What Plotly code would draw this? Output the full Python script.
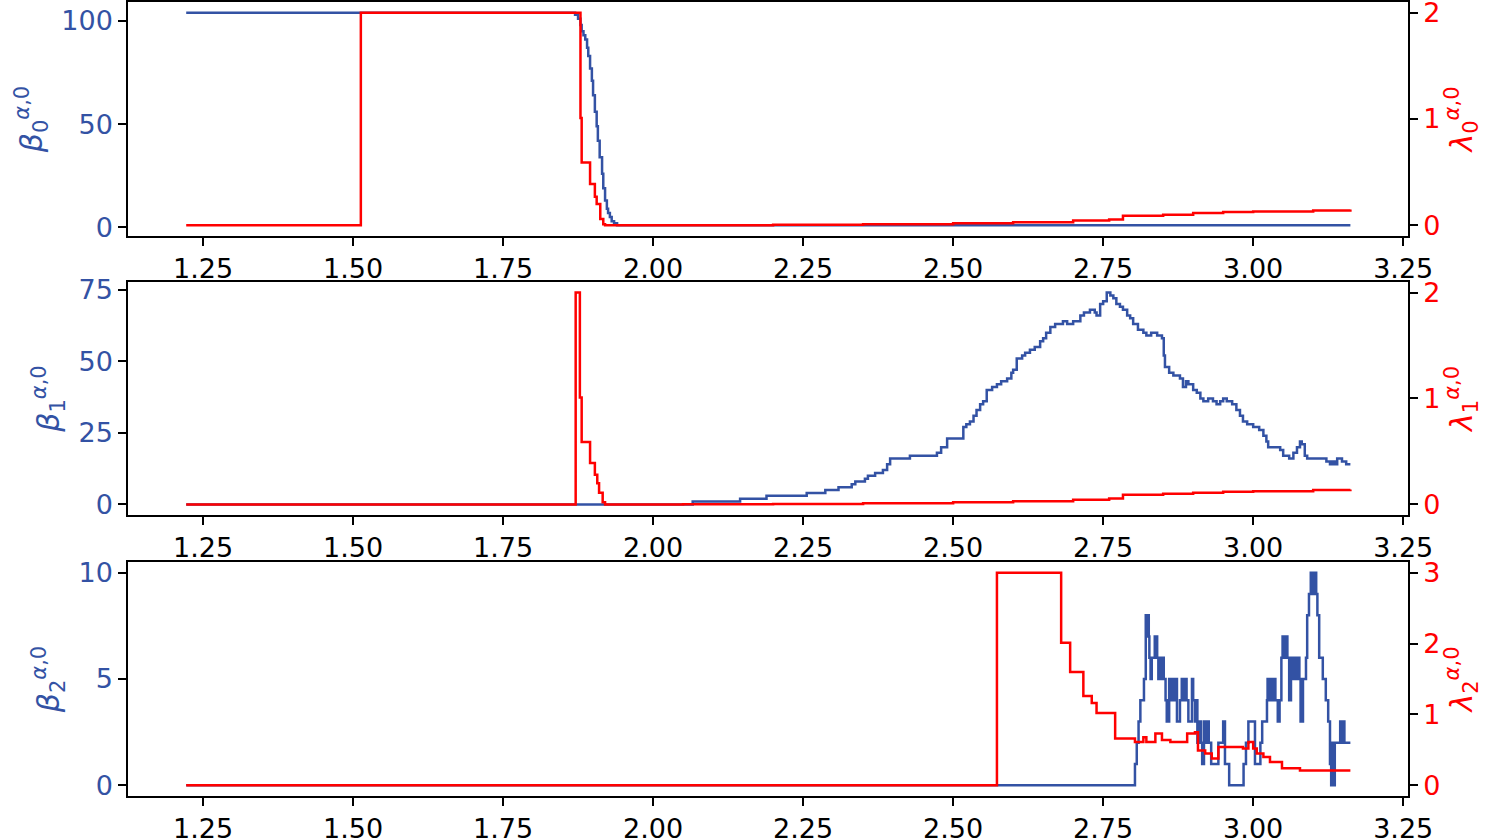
import plotly.graph_objects as go

BLUE = "#3352a4"
RED = "#ff0000"

# ---- panel 1: beta_0 (left) and lambda_0 (right) ----
b0_x = [1.222, 1.870, 1.875, 1.879, 1.881, 1.884, 1.887, 1.890, 1.892, 1.895, 1.898,
        1.900, 1.903, 1.906, 1.908, 1.911, 1.915, 1.917, 1.920, 1.923, 1.925, 1.928,
        1.931, 1.935, 1.940, 3.162]
b0_y = [104, 103, 101, 98, 95, 93, 91, 87, 83, 77, 71, 64, 56, 49, 42, 34, 26, 19, 13,
        9, 7, 5, 3, 2, 1, 1]
l0_x = [1.222, 1.513, 1.879, 1.881, 1.895, 1.903, 1.906, 1.912, 1.917, 1.920, 2.05,
        2.2, 2.35, 2.5, 2.6, 2.7, 2.76, 2.783, 2.85, 2.9, 2.95, 3.0, 3.1, 3.162]
l0_y = [0, 2, 1.01, 0.59, 0.39, 0.27, 0.2, 0.06, 0.01, 0, 0.002, 0.005, 0.01, 0.02,
        0.03, 0.045, 0.055, 0.09, 0.1, 0.115, 0.125, 0.13, 0.14, 0.15]

# ---- panel 2: beta_1 and lambda_1 ----
b1_x = [1.222, 2.066, 2.145, 2.189, 2.256, 2.287, 2.309, 2.331, 2.337, 2.353, 2.358,
        2.370, 2.383, 2.390, 2.395, 2.428, 2.473, 2.480, 2.490, 2.517, 2.522, 2.528,
        2.534, 2.539, 2.545, 2.550, 2.556, 2.565, 2.573, 2.580, 2.590, 2.597, 2.600,
        2.606, 2.615, 2.620, 2.628, 2.636, 2.645, 2.650, 2.655, 2.662, 2.670, 2.683,
        2.690, 2.700, 2.712, 2.718, 2.728, 2.736, 2.739, 2.745, 2.750, 2.756, 2.762,
        2.767, 2.772, 2.778, 2.783, 2.790, 2.795, 2.800, 2.808, 2.817, 2.822, 2.830,
        2.840, 2.848, 2.851, 2.853, 2.860, 2.867, 2.878, 2.883, 2.888, 2.892, 2.900,
        2.906, 2.912, 2.917, 2.925, 2.933, 2.939, 2.945, 2.950, 2.956, 2.965, 2.972,
        2.978, 2.983, 2.990, 3.000, 3.010, 3.017, 3.022, 3.025, 3.040, 3.045, 3.050,
        3.060, 3.067, 3.073, 3.078, 3.081, 3.086, 3.090, 3.117, 3.122, 3.128, 3.132,
        3.136, 3.140, 3.148, 3.155, 3.162]
b1_y = [0, 1, 2, 3, 4, 5, 6, 7, 8, 9, 10, 11, 12, 14, 16, 17, 18, 20, 23, 27, 28, 29,
        31, 33, 35, 36, 40, 41, 42, 43, 44, 46, 47, 51, 52, 53, 54, 55, 57, 58, 60, 62,
        63, 64, 63, 64, 66, 67, 68, 67, 66, 70, 71, 74, 73, 72, 70, 69, 68, 66, 65, 63,
        61, 60, 59, 60, 59, 58, 52, 48, 46, 45, 44, 41, 43, 42, 40, 39, 37, 36, 37, 36,
        35, 36, 37, 36, 35, 33, 31, 29, 28, 27, 26, 24, 22, 20, 20, 19, 17, 16, 18, 20,
        22, 21, 17, 16, 16, 15, 14, 15, 14, 16, 15, 14, 14]
l1_x = [1.222, 1.871, 1.878, 1.881, 1.895, 1.903, 1.907, 1.910, 1.916, 1.920, 2.05,
        2.2, 2.35, 2.5, 2.6, 2.7, 2.76, 2.783, 2.85, 2.9, 2.95, 3.0, 3.1, 3.162]
l1_y = [0, 2, 1.01, 0.59, 0.39, 0.28, 0.2, 0.11, 0.02, 0, 0.002, 0.005, 0.01, 0.02,
        0.03, 0.045, 0.055, 0.09, 0.1, 0.11, 0.12, 0.125, 0.135, 0.14]

# ---- panel 3: beta_2 and lambda_2 ----
b2_x = [1.222, 2.803, 2.806, 2.809, 2.812, 2.818, 2.821, 2.823, 2.824, 2.826, 2.827,
        2.829, 2.831, 2.836, 2.840, 2.842, 2.844, 2.846, 2.848, 2.851, 2.854, 2.856,
        2.860, 2.863, 2.865, 2.868, 2.870, 2.873, 2.878, 2.881, 2.884, 2.887, 2.889,
        2.892, 2.898, 2.900, 2.903, 2.905, 2.907, 2.910, 2.913, 2.915, 2.918, 2.920,
        2.923, 2.926, 2.930, 2.942, 2.950, 2.953, 2.960, 2.984, 2.988, 2.992, 3.003,
        3.012, 3.015, 3.023, 3.024, 3.026, 3.029, 3.032, 3.034, 3.037, 3.041, 3.044,
        3.047, 3.049, 3.052, 3.055, 3.057, 3.060, 3.063, 3.066, 3.069, 3.071, 3.074,
        3.077, 3.079, 3.083, 3.088, 3.090, 3.093, 3.096, 3.099, 3.101, 3.105, 3.107,
        3.110, 3.116, 3.121, 3.125, 3.128, 3.130, 3.132, 3.134, 3.136, 3.145, 3.147,
        3.149, 3.152, 3.162]
b2_y = [0, 1, 2, 3, 4, 5, 8, 7, 8, 7, 6, 5, 6, 7, 6, 5, 6, 5, 6, 5, 4, 3, 5, 4, 5, 4,
        5, 3, 4, 5, 4, 5, 4, 3, 5, 4, 3, 4, 2, 3, 2, 1, 3, 2, 3, 2, 1, 2, 3, 1, 0, 1, 2,
        3, 1, 2, 3, 4, 5, 4, 5, 4, 5, 4, 3, 4, 6, 7, 6, 7, 6, 4, 6, 5, 6, 5, 6, 5, 3, 5,
        6, 8, 9, 10, 9, 10, 9, 8, 6, 5, 4, 3, 1, 0, 2, 0, 2, 3, 2, 3, 2, 2]
l2_x = [1.222, 2.573, 2.680, 2.695, 2.717, 2.731, 2.739, 2.770, 2.803, 2.817, 2.822,
        2.837, 2.848, 2.862, 2.890, 2.903, 2.908, 2.920, 2.931, 2.942, 2.983, 2.992,
        3.000, 3.006, 3.017, 3.028, 3.048, 3.078, 3.162]
l2_y = [0, 3, 2.01, 1.6, 1.26, 1.16, 1.02, 0.66, 0.61, 0.68, 0.61, 0.73, 0.64, 0.61,
        0.73, 0.75, 0.49, 0.45, 0.38, 0.54, 0.52, 0.61, 0.52, 0.45, 0.40, 0.33, 0.24,
        0.21, 0.21]

x_ticks = [1.25, 1.50, 1.75, 2.00, 2.25, 2.50, 2.75, 3.00, 3.25]

fig = go.Figure()
panels = [
    (b0_x, b0_y, l0_x, l0_y, "x", "y", "y2"),
    (b1_x, b1_y, l1_x, l1_y, "x2", "y3", "y4"),
    (b2_x, b2_y, l2_x, l2_y, "x3", "y5", "y6"),
]
for bx, by, lx, ly, xa, ya, ya2 in panels:
    fig.add_trace(go.Scatter(x=bx, y=by, mode="lines", xaxis=xa, yaxis=ya,
                             line=dict(color=BLUE, width=2.5, shape="hv")))
    fig.add_trace(go.Scatter(x=lx, y=ly, mode="lines", xaxis=xa, yaxis=ya2,
                             line=dict(color=RED, width=2.5, shape="hv")))

FS = 27
axis_common = dict(showline=True, linecolor="black", linewidth=1.5, ticks="outside",
                   ticklen=8, tickwidth=1.5, tickcolor="black", showgrid=False,
                   zeroline=False, automargin=False, ticklabeloverflow="allow")


def xax(anchor):
    return dict(axis_common, domain=[0, 1], anchor=anchor, range=[1.125, 3.258],
                tickvals=x_ticks, tickformat=".2f", mirror=True,
                tickfont=dict(size=FS, color="black"))


def yleft(domain, anchor, rng, ticks, idx):
    return dict(axis_common, domain=domain, anchor=anchor, range=rng, tickvals=ticks,
                mirror=True, tickfont=dict(size=FS, color=BLUE),
                title=dict(text="<i>β</i><sub>%d</sub><sup><i>α</i>,0</sup>" % idx,
                           font=dict(size=30, color=BLUE), standoff=10))


def yright(over, anchor, rng, ticks, idx):
    return dict(axis_common, overlaying=over, side="right", anchor=anchor, range=rng,
                tickvals=ticks, tickfont=dict(size=FS, color=RED),
                title=dict(text="<i>λ</i><sub>%d</sub><sup><i>α</i>,0</sup>" % idx,
                           font=dict(size=30, color=RED), standoff=6))


d1 = [0.7053, 1.0]
d2 = [0.3539, 0.6474]
d3 = [0.0, 0.2947]

fig.update_layout(
    width=1500, height=839,
    margin=dict(l=128, r=92, t=2, b=43),
    paper_bgcolor="white", plot_bgcolor="white",
    font=dict(family="DejaVu Sans", size=FS, color="black"),
    showlegend=False,
    xaxis=xax("y"), xaxis2=xax("y3"), xaxis3=xax("y5"),
    yaxis=yleft(d1, "x", [-4.15, 109.15], [0, 50, 100], 0),
    yaxis2=yright("y", "x", [-0.1, 2.1], [0, 1, 2], 0),
    yaxis3=yleft(d2, "x2", [-3.7, 77.7], [0, 25, 50, 75], 1),
    yaxis4=yright("y3", "x2", [-0.1, 2.1], [0, 1, 2], 1),
    yaxis5=yleft(d3, "x3", [-0.5, 10.5], [0, 5, 10], 2),
    yaxis6=yright("y5", "x3", [-0.15, 3.15], [0, 1, 2, 3], 2),
)

fig.write_html("out.html", config={"displayModeBar": False},
               post_script="document.body.style.margin='0';")
